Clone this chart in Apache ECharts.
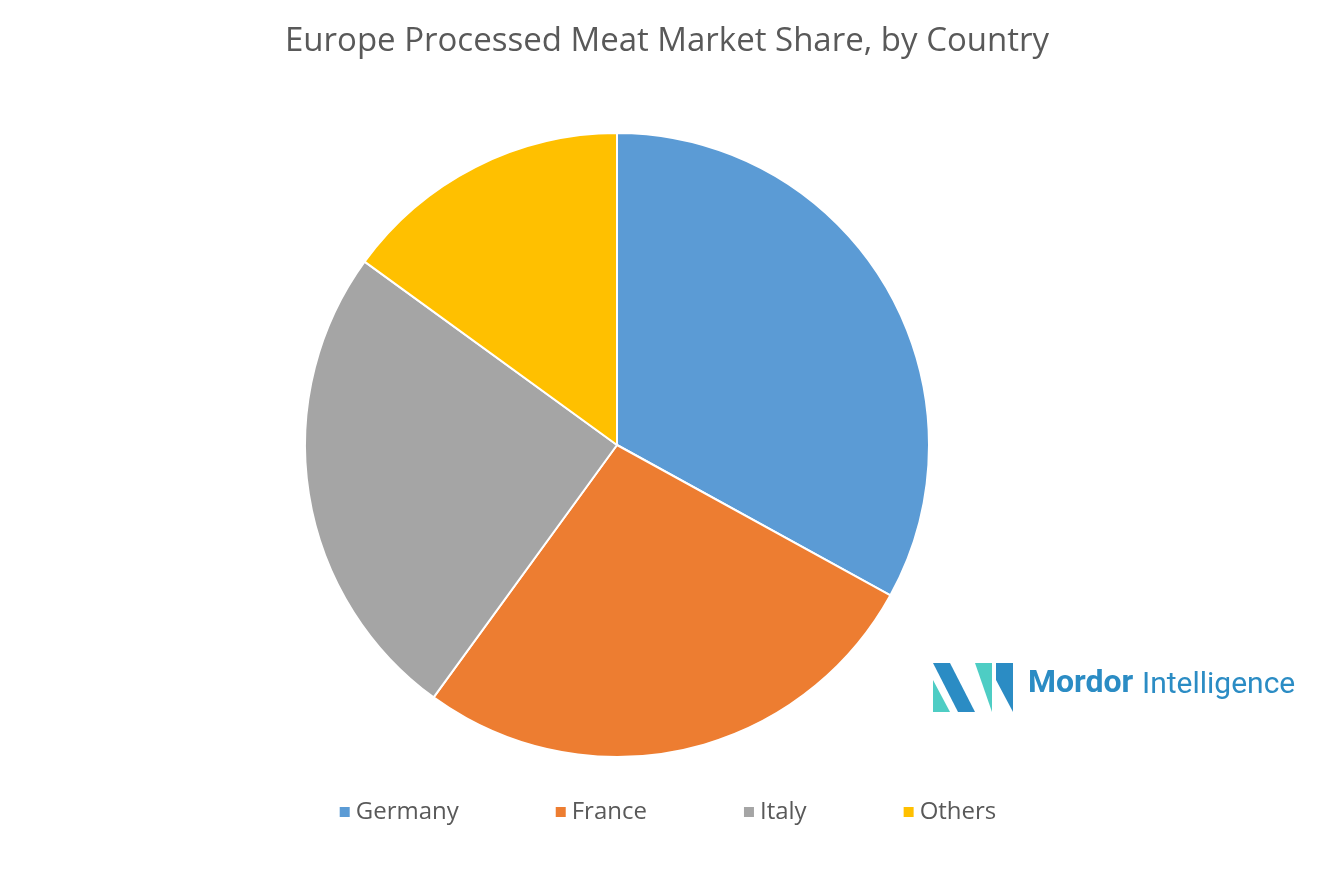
<!DOCTYPE html>
<html>
<head>
<meta charset="utf-8">
<script src="https://cdn.jsdelivr.net/npm/echarts@6/dist/echarts.min.js"></script>
<style>html,body{margin:0;padding:0;background:#fff}#chart{width:1334px;height:889px}</style>
</head>
<body>
<div id="chart"></div>
<script>
const countries = ['Germany', 'France', 'Italy', 'Others'];
const shares = [33, 27, 25, 15];
const colors = ['#5B9BD5', '#ED7D31', '#A5A5A5', '#FFC000'];

const chart = echarts.init(document.getElementById('chart'));
chart.setOption({
  animation: false,
  title: {
    text: 'Europe Processed Meat Market Share, by Country',
    left: 'center', top: 20,
    textStyle: { fontFamily: 'Open Sans', fontSize: 33, fontWeight: 'normal', color: '#595959' }
  },
  legend: {
    bottom: 60, left: 'center', itemWidth: 12, itemHeight: 12, itemGap: 95, icon: 'rect',
    textStyle: { fontFamily: 'Open Sans', fontSize: 24, color: '#595959' },
    data: countries
  },
  graphic: [
    { type: 'polygon', shape: { points: [[933, 663], [950, 663], [975, 712], [958, 712]] }, style: { fill: '#2B8CC4' } },
    { type: 'polygon', shape: { points: [[933, 680], [950, 712], [933, 712]] }, style: { fill: '#4ECDC4' } },
    { type: 'polygon', shape: { points: [[975, 663], [992, 663], [992, 712]] }, style: { fill: '#4ECDC4' } },
    { type: 'polygon', shape: { points: [[996, 663], [1013, 663], [1013, 712], [996, 680]] }, style: { fill: '#2B8CC4' } },
    { type: 'text', left: 1028, top: 668, style: { text: 'Mordor', font: 'bold 32px Roboto, sans-serif', fill: '#2B8CC4' } },
    { type: 'text', left: 1142, top: 670, style: { text: 'Intelligence', font: '30px Roboto, sans-serif', fill: '#2B8CC4' } }
  ],
  series: [{
    type: 'pie',
    center: [617, 445],
    radius: 312,
    startAngle: 90,
    clockwise: true,
    label: { show: false },
    labelLine: { show: false },
    itemStyle: { borderColor: '#fff', borderWidth: 2 },
    data: countries.map((c, i) => ({ name: c, value: shares[i], itemStyle: { color: colors[i] } }))
  }]
});
</script>
</body>
</html>
